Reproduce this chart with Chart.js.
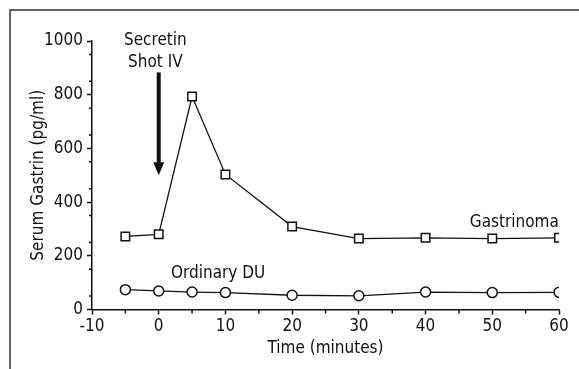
<!DOCTYPE html>
<html>
<head>
<meta charset="utf-8">
<script src="https://cdn.jsdelivr.net/npm/chart.js@4.4.0/dist/chart.umd.min.js"></script>
<style>
  html, body { margin: 0; padding: 0; background: #fff; }
  #wrap { position: relative; width: 579px; height: 369px; overflow: hidden; }
  #frame { position: absolute; left: 9px; top: 9px; right: -5px; bottom: -5px;
           border-top: 2px solid #666; border-left: 2px solid #666; }
  canvas { position: absolute; left: 0; top: 0; }
</style>
</head>
<body>
<div id="wrap">
  <div id="frame"></div>
  <canvas id="chart" width="579" height="369"></canvas>
</div>
<script>
// Tiempos (minutos) y gastrina sérica (pg/ml)
const times = [-5, 0, 5, 10, 20, 30, 40, 50, 60];
const gastrinoma = [272, 280, 793, 503, 309, 264, 267, 264, 267];
const ordinaryDU = [74, 69, 65, 63, 53, 51, 65, 63, 64];

const xTicks = [-10, 0, 10, 20, 30, 40, 50, 60];
const yTicks = [0, 200, 400, 600, 800, 1000];

const FONT = '"Liberation Sans Narrow", "DejaVu Sans Condensed", "Arial Narrow", sans-serif';
const FSIZE = 17;
const INK = '#111';

function toPoints(ys) {
    return times.map((t, i) => ({ x: t, y: ys[i] }));
}

// Ticks menores + anotaciones (flecha y etiquetas)
const extras = {
    id: 'extras',
    afterDraw(chart) {
        const ctx = chart.ctx;
        const xs = chart.scales.x, ys = chart.scales.y;
        ctx.save();
        ctx.strokeStyle = INK;
        ctx.lineWidth = 1.5;
        ctx.beginPath();
        for (let v = 50; v < 1000; v += 100) {
            const py = ys.getPixelForValue(v);
            ctx.moveTo(xs.left - 3, py);
            ctx.lineTo(xs.left, py);
        }
        for (let v = -5; v < 60; v += 10) {
            const px = xs.getPixelForValue(v);
            ctx.moveTo(px, ys.bottom);
            ctx.lineTo(px, ys.bottom + 4);
        }
        ctx.stroke();

        // Flecha de la inyección de secretina
        const ax = xs.getPixelForValue(0);
        const aTop = ys.getPixelForValue(883);
        const aTip = ys.getPixelForValue(500);
        ctx.fillStyle = INK;
        ctx.fillRect(ax - 2, aTop, 4, aTip - aTop - 12);
        ctx.beginPath();
        ctx.moveTo(ax - 5.5, aTip - 13);
        ctx.lineTo(ax + 5.5, aTip - 13);
        ctx.lineTo(ax, aTip);
        ctx.closePath();
        ctx.fill();

        ctx.font = FSIZE + 'px ' + FONT;
        ctx.textAlign = 'center';
        ctx.textBaseline = 'alphabetic';
        ctx.fillText('Secretin', xs.getPixelForValue(-0.5), ys.getPixelForValue(985));
        ctx.fillText('Shot IV', xs.getPixelForValue(-0.5), ys.getPixelForValue(904));
        ctx.fillText('Gastrinoma', xs.getPixelForValue(53.3), ys.getPixelForValue(308));
        ctx.fillText('Ordinary DU', xs.getPixelForValue(8.9), ys.getPixelForValue(118));
        ctx.restore();
    }
};

const ctx = document.getElementById('chart').getContext('2d');
new Chart(ctx, {
    type: 'line',
    data: {
        datasets: [{
            label: 'Gastrinoma',
            data: toPoints(gastrinoma),
            borderColor: INK,
            borderWidth: 1.3,
            pointStyle: 'rect',
            pointRadius: 6,
            pointBorderWidth: 1.5,
            pointBorderColor: INK,
            pointBackgroundColor: '#fff',
            tension: 0
        }, {
            label: 'Ordinary DU',
            data: toPoints(ordinaryDU),
            borderColor: INK,
            borderWidth: 1.3,
            pointStyle: 'circle',
            pointRadius: 5,
            pointBorderWidth: 1.5,
            pointBorderColor: INK,
            pointBackgroundColor: '#fff',
            tension: 0
        }]
    },
    options: {
        responsive: false,
        animation: false,
        layout: { padding: { top: 41, right: 20, left: 0, bottom: 0 } },
        plugins: { legend: { display: false }, tooltip: { enabled: false } },
        scales: {
            x: {
                type: 'linear',
                min: -10,
                max: 60,
                afterBuildTicks: (s) => { s.ticks = xTicks.map(v => ({ value: v })); },
                afterFit: (s) => { s.height = 59.5; },
                ticks: { color: INK, font: { family: FONT, size: FSIZE }, padding: 2, maxRotation: 0,
                         callback: (v) => String(v) },
                grid: { drawOnChartArea: false, tickLength: 5, color: INK, tickWidth: 1.5 },
                border: { display: true, color: INK, width: 1.5 },
                title: { display: true, text: 'Time (minutes)', color: INK,
                         font: { family: FONT, size: FSIZE }, padding: { top: 0, bottom: 10 } }
            },
            y: {
                min: 0,
                max: 1000,
                afterBuildTicks: (s) => { s.ticks = yTicks.map(v => ({ value: v })); },
                afterFit: (s) => { s.width = 92; },
                ticks: { color: INK, font: { family: FONT, size: FSIZE }, padding: 4,
                         callback: (v) => String(v) },
                grid: { drawOnChartArea: false, tickLength: 5, color: INK, tickWidth: 1.5 },
                border: { display: true, color: INK, width: 1.5 },
                title: { display: true, text: 'Serum Gastrin (pg/ml)', color: INK,
                         font: { family: FONT, size: FSIZE }, padding: { top: 28, bottom: 0 } }
            }
        }
    },
    plugins: [extras]
});
</script>
</body>
</html>
